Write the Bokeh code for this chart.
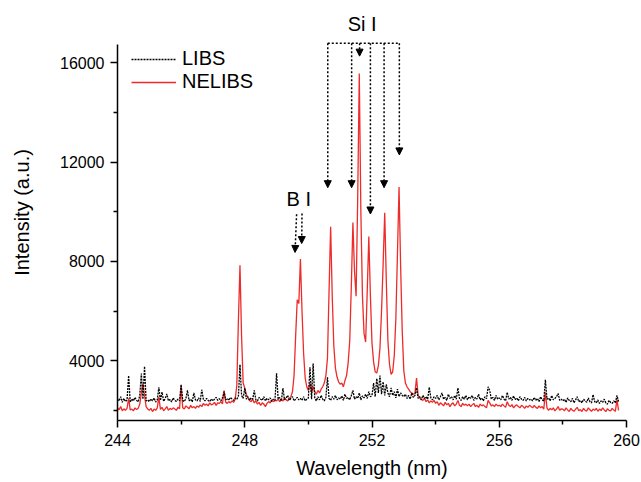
import numpy as np
from bokeh.plotting import figure
from bokeh.models import (FixedTicker, Arrow, NormalHead, Label, Legend,
                          LegendItem, Range1d)
from bokeh.embed import file_html
from bokeh.resources import INLINE

# ---------------- data ----------------
wl_start = 244.0     # nm
wl_step = 0.05       # nm, sampling step of the spectra

libs_intensity = [
    2450, 2380, 2550, 2320, 2480, 2350, 2420, 3400, 2330, 2460, 2380, 2520, 2400, 2340, 2600, 3480, 2450, 3770, 2380, 2420,
    2350, 2460, 2380, 2500, 2330, 2420, 2930, 2400, 2730, 2360, 2480, 2660, 2380, 2440, 2340, 2500, 2400, 2360, 2450, 2380,
    3040, 2400, 2350, 2480, 2800, 2380, 2450, 2340, 2700, 2420, 2380, 2500, 2360, 2830, 2440, 2380, 2480, 2400, 2350, 2460,
    2380, 2450, 2520, 2400, 2470, 2380, 2500, 2750, 2420, 2480, 2400, 2520, 2460, 2400, 2500, 2450, 2550, 3840, 2600, 2480,
    2900, 2450, 2550, 2400, 2500, 2450, 2800, 2420, 2380, 2520, 2450, 2400, 2550, 2380, 2480, 2420, 2500, 2360, 2450, 2400,
    3490, 2450, 2520, 2380, 2900, 2420, 2500, 2600, 2400, 2480, 2550, 2380, 2450, 2520, 2420, 2480, 2400, 2550, 2380, 2450,
    2500, 3730, 2450, 3890, 2500, 2380, 2550, 2420, 2600, 2450, 2380, 2520, 3330, 2480, 2400, 2550, 2450, 2600, 2420, 2500,
    2450, 2580, 2400, 2650, 2480, 2520, 2420, 2600, 2800, 2450, 2550, 2480, 2700, 2420, 2580, 2500, 2650, 2480, 2750, 2550,
    2600, 3100, 2550, 3280, 2700, 3400, 2650, 3150, 2600, 3050, 2700, 2550, 2900, 2600, 2750, 2500, 2850, 2550, 2700, 2600,
    2550, 2650, 2480, 2600, 2450, 2700, 2520, 2600, 2900, 2480, 2550, 2420, 2600, 2480, 2550, 2450, 2930, 2500, 2420, 2550,
    2480, 2600, 2420, 2550, 2700, 2450, 2520, 2400, 2650, 2480, 2550, 2420, 2600, 2450, 2900, 2480, 2400, 2550, 2450, 2600,
    2420, 2550, 2480, 2600, 2400, 2520, 2450, 2650, 2420, 2500, 2380, 2550, 2470, 2950, 2800, 2450, 2520, 2400, 2600, 2450,
    2500, 2420, 2600, 2450, 2380, 2730, 2450, 2520, 2400, 2580, 2430, 2500, 2380, 2550, 2450, 2400, 2520, 2380, 2480, 2420,
    2450, 2380, 2520, 2400, 2480, 2350, 2550, 2420, 2380, 3230, 2450, 2500, 2380, 2600, 2420, 2480, 2550, 2680, 2400, 2450,
    2380, 2450, 2320, 2500, 2400, 2350, 2480, 2300, 2420, 2550, 2350, 2400, 2300, 2450, 2380, 2320, 2500, 2350, 2300, 2630,
    2350, 2300, 2420, 2280, 2380, 2320, 2450, 2300, 2250, 2400, 2320, 2280, 2380, 2300, 2600, 2350,
]

nelibs_intensity = [
    2100, 2020, 2150, 1980, 2060, 2000, 2080, 2480, 2020, 2050, 1980, 2100, 2030, 2080, 2250, 2700, 3080, 2600, 2150, 2050,
    2000, 2080, 1950, 2050, 2000, 2100, 2530, 2040, 2120, 1980, 2060, 2150, 2000, 2080, 2030, 2100, 2050, 2000, 2120, 2060,
    2990, 2100, 2050, 2180, 2120, 2060, 2200, 2100, 2150, 2080, 2180, 2120, 2220, 2150, 2280, 2200, 2250, 2180, 2300, 2220,
    2250, 2320, 2200, 2300, 2280, 2350, 2260, 2800, 2330, 2280, 2350, 2300, 2380, 2320, 2450, 3000, 5600, 7840, 5000, 3100,
    2900, 2650, 2500, 2400, 2350, 2450, 2300, 2380, 2250, 2320, 2200, 2300, 2250, 2150, 2280, 2350, 2300, 2420, 2350, 2400,
    2380, 2450, 2350, 2420, 2380, 2500, 2420, 2380, 2480, 2550, 2750, 3400, 5000, 6450, 6300, 8100, 6000, 4300, 3300, 2950,
    2800, 3100, 2700, 2950, 2750, 2650, 2800, 2700, 2850, 2950, 3100, 3400, 4100, 6800, 9400, 6600, 4600, 3700, 3350, 3150,
    3050, 3100, 2950, 3200, 3400, 3900, 4800, 7000, 9570, 7600, 6600, 10500, 15570, 10000, 6600, 5100, 4750, 6800, 9000, 6600,
    4700, 3950, 3550, 3500, 3800, 4500, 6000, 7900, 9960, 7200, 4800, 3850, 3450, 3550, 4200, 5700, 8300, 11000, 7800, 5200,
    3600, 3100, 2950, 2850, 2750, 2700, 2650, 2700, 3300, 2600, 2500, 2450, 2400, 2480, 2350, 2420, 2300, 2380, 2320, 2400,
    2280, 2350, 2200, 2300, 2250, 2180, 2320, 2220, 2280, 2150, 2250, 2300, 2180, 2250, 2400, 2200, 2150, 2280, 2200, 2250,
    2180, 2250, 2150, 2220, 2280, 2150, 2200, 2120, 2250, 2180, 2220, 2150, 2100, 2400, 2300, 2180, 2220, 2150, 2250, 2180,
    2200, 2150, 2250, 2180, 2120, 2350, 2200, 2150, 2230, 2100, 2180, 2220, 2150, 2100, 2200, 2150, 2080, 2180, 2120, 2200,
    2150, 2100, 2200, 2120, 2080, 2180, 2100, 2150, 2050, 2730, 2100, 2000, 2080, 2020, 2100, 1980, 2050, 2150, 2000, 2060,
    2050, 1980, 2100, 2020, 1950, 2080, 2000, 1960, 2050, 2120, 1980, 2030, 1950, 2080, 2000, 1970, 2100, 2020, 1960, 2050,
    2000, 2080, 1960, 2050, 1990, 2100, 2020, 1950, 2060, 2000, 1980, 2080, 2010, 1960, 2440, 2000,
]

series_labels = ["LIBS", "NELIBS"]

x_major_ticks = [244, 248, 252, 256, 260]
x_minor_ticks = [246, 250, 254, 258]
y_major_ticks = [4000, 8000, 12000, 16000]
y_minor_ticks = [2000, 6000, 10000, 14000]
y_axis_extent = (1590, 16740)

# annotation positions (nm / a.u.)
si_label = "Si I"
si_label_pos = (251.69, 17565)
si_lines_nm = [250.61, 251.36, 251.61, 251.95, 252.38, 252.86]
si_tips = [10970, 10970, 16270, 9910, 10970, 12290]
si_bracket_y = 16784

bi_label = "B I"
bi_label_pos = (249.70, 10500)
bi_start_nm = [249.63, 249.80]
bi_end_nm = [249.58, 249.79]
bi_start_y = [9900, 9930]
bi_tips = [8360, 8720]

# ---------------- figure ----------------
n = len(libs_intensity)
wavelength = np.round(wl_start + wl_step * np.arange(n), 2)

FONT = "Liberation Sans"
RED = "#ee2a2a"

p = figure(width=641, height=482, output_backend="svg", toolbar_location=None,
           x_range=Range1d(244, 260), y_range=Range1d(1590, 18350),
           min_border_left=117, min_border_right=15, min_border_top=4,
           min_border_bottom=62, title=None)
p.outline_line_color = None
p.grid.visible = False
p.background_fill_color = "white"
p.border_fill_color = "white"

p.xaxis.ticker = FixedTicker(ticks=x_major_ticks, minor_ticks=x_minor_ticks)
p.yaxis.ticker = FixedTicker(ticks=y_major_ticks, minor_ticks=y_minor_ticks)
p.yaxis.bounds = y_axis_extent
for ax in (p.xaxis[0], p.yaxis[0]):
    ax.axis_line_width = 1.5
    ax.axis_line_color = "black"
    ax.major_tick_line_width = 1.5
    ax.minor_tick_line_width = 1.5
    ax.major_tick_line_color = "black"
    ax.minor_tick_line_color = "black"
    ax.major_tick_out = 7
    ax.major_tick_in = 0
    ax.minor_tick_out = 4
    ax.minor_tick_in = 0
    ax.major_label_text_font = FONT
    ax.major_label_text_font_size = "16px"
    ax.major_label_text_color = "black"
    ax.axis_label_text_font = FONT
    ax.axis_label_text_font_size = "20px"
    ax.axis_label_text_font_style = "normal"
    ax.axis_label_text_color = "black"

p.xaxis.axis_label = "Wavelength (nm)"
p.yaxis.axis_label = "Intensity (a.u.)"
p.xaxis.major_label_standoff = 6
p.xaxis.axis_label_standoff = 8
p.yaxis.major_label_standoff = 6
p.yaxis.axis_label_standoff = 24

r_nelibs = p.line(wavelength, nelibs_intensity, line_color=RED, line_width=1.3)
r_libs = p.line(wavelength, libs_intensity, line_color="black", line_width=1.3,
                line_dash="2 1")

legend = Legend(items=[LegendItem(label=series_labels[0], renderers=[r_libs]),
                       LegendItem(label=series_labels[1], renderers=[r_nelibs])],
                location=(14, 327), glyph_width=45, glyph_height=20,
                label_height=20, label_standoff=6, spacing=0, padding=0,
                margin=0, border_line_alpha=0, background_fill_alpha=0,
                label_text_font=FONT, label_text_font_size="20px",
                label_text_color="black")
p.add_layout(legend)

# Si I bracket + arrows
p.line([si_lines_nm[0], si_lines_nm[-1]], [si_bracket_y, si_bracket_y],
       line_color="black", line_width=1.5, line_dash="2 2")
for xn, yt in zip(si_lines_nm, si_tips):
    p.add_layout(Arrow(end=NormalHead(size=7, fill_color="black",
                                      line_color="black", line_width=1),
                       x_start=xn, y_start=si_bracket_y, x_end=xn, y_end=yt,
                       line_color="black", line_width=1.5, line_dash="2 2"))
for xs, xe, ys, ye in zip(bi_start_nm, bi_end_nm, bi_start_y, bi_tips):
    p.add_layout(Arrow(end=NormalHead(size=7, fill_color="black",
                                      line_color="black", line_width=1),
                       x_start=xs, y_start=ys, x_end=xe, y_end=ye,
                       line_color="black", line_width=1.5, line_dash="2 2"))

p.add_layout(Label(x=si_label_pos[0], y=si_label_pos[1], text=si_label,
                   text_font=FONT, text_font_size="20px", text_align="center",
                   text_baseline="middle", text_color="black"))
p.add_layout(Label(x=bi_label_pos[0], y=bi_label_pos[1], text=bi_label,
                   text_font=FONT, text_font_size="20px", text_align="center",
                   text_baseline="middle", text_color="black"))

open("out.html", "w").write(file_html(p, INLINE))
